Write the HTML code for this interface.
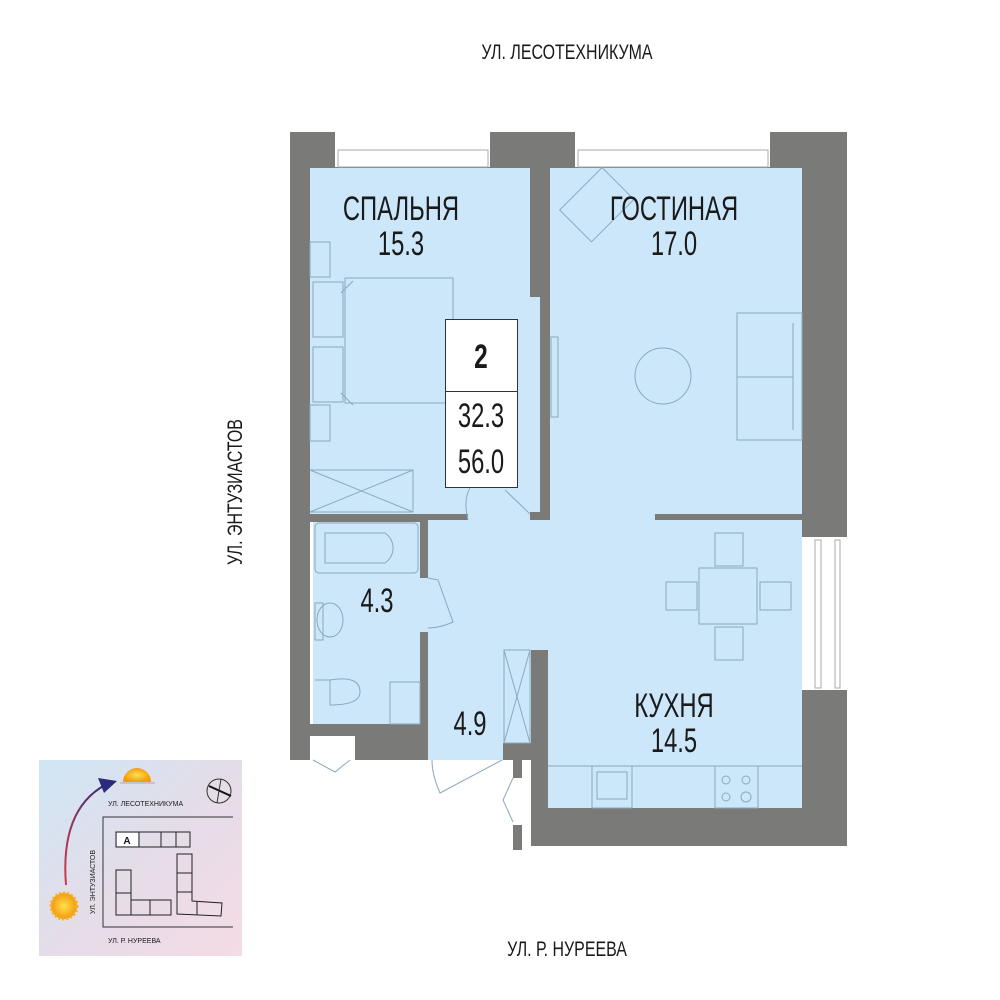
<!DOCTYPE html>
<html><head><meta charset="utf-8"><style>
html,body{margin:0;padding:0;background:#fff;width:1000px;height:1000px;overflow:hidden}
svg{display:block}
text{font-family:"Liberation Sans",sans-serif;fill:#1a1a1a}
</style></head><body>
<svg width="1000" height="1000" viewBox="0 0 1000 1000">
<defs>
<linearGradient id="g" x1="0" y1="0" x2="1" y2="1">
<stop offset="0" stop-color="#cfe6f5"/><stop offset="0.5" stop-color="#e4dde8"/><stop offset="1" stop-color="#f5dbe6"/></linearGradient>
<linearGradient id="arr" x1="0" y1="1" x2="1" y2="0"><stop offset="0" stop-color="#d23a4a"/><stop offset="1" stop-color="#2c2a7a"/></linearGradient>
<radialGradient id="sun"><stop offset="0" stop-color="#ffe04a"/><stop offset="1" stop-color="#f29a12"/></radialGradient>
</defs>
<text x="567" y="59" font-size="21" text-anchor="middle" transform="translate(567 0) scale(0.76 1) translate(-567 0)">УЛ. ЛЕСОТЕХНИКУМА</text>
<text x="567" y="956" font-size="21" text-anchor="middle" transform="translate(567 0) scale(0.76 1) translate(-567 0)">УЛ. Р. НУРЕЕВА</text>
<text transform="translate(242 492) rotate(-90) scale(0.76 1)" font-size="21" text-anchor="middle">УЛ. ЭНТУЗИАСТОВ</text>

<g fill="#7a7b78">
<rect x="290" y="132" width="557" height="36"/>
<rect x="290" y="132" width="20" height="628"/>
<rect x="802" y="132" width="45" height="405"/>
<rect x="802" y="690" width="45" height="156"/>
<rect x="531" y="808" width="316" height="38"/>
<rect x="531" y="650" width="17" height="196"/>
<rect x="530" y="168" width="20" height="129"/>
<rect x="540" y="168" width="10" height="352"/>
<rect x="310" y="514" width="158" height="8"/>
<rect x="530" y="512" width="20" height="10"/>
<rect x="655" y="514" width="147" height="8"/>
<rect x="420" y="520" width="8" height="58"/>
<rect x="420" y="632" width="8" height="92"/>
<rect x="290" y="724" width="138" height="36"/>
<rect x="503" y="743" width="34" height="17"/>
<rect x="513" y="743" width="9" height="35"/>
<rect x="513" y="825" width="9" height="25"/>
</g>
<g fill="#fff" stroke="#aaa" stroke-width="1">
<rect x="335" y="132" width="155" height="35" stroke="none"/>
<rect x="338" y="150" width="150" height="17"/>
<rect x="575" y="132" width="195" height="35" stroke="none"/>
<rect x="578" y="150" width="190" height="17"/>
<rect x="803" y="537" width="44" height="153" stroke="none"/>
<rect x="815" y="540" width="6" height="148"/>
<rect x="835" y="540" width="5" height="148"/>
<rect x="310" y="736" width="45" height="24" stroke="none"/>
</g>
<g fill="#cce7f9">
<rect x="310" y="168" width="220" height="346"/>
<rect x="530" y="297" width="10" height="215"/>
<rect x="550" y="168" width="252" height="346"/>
<rect x="313" y="522" width="107" height="202"/>
<rect x="420" y="578" width="8" height="54"/>
<rect x="428" y="520" width="374" height="130"/>
<rect x="428" y="650" width="103" height="93"/>
<rect x="428" y="743" width="75" height="17"/>
<rect x="548" y="520" width="254" height="288"/>
<rect x="468" y="514" width="62" height="8"/>
<rect x="550" y="514" width="105" height="8"/>
</g>
<g fill="none" stroke="#8aa9bd" stroke-width="1">
<rect x="310" y="242" width="20" height="35"/>
<rect x="313" y="282" width="30" height="55"/>
<rect x="313" y="347" width="30" height="55"/>
<rect x="310" y="405" width="20" height="36"/>
<rect x="345" y="278" width="108" height="125"/>
<path d="M341 293 L353 281 M341 393 L353 405"/>
<path d="M310 470 H413 V512 H310 M310 470 L413 512 M413 470 L310 512"/>
<path d="M468 520 Q463 500 470 488 M530 514 L505 490"/>
<rect x="570" y="175" width="45" height="60" transform="rotate(45 595 210)"/>
<circle cx="663" cy="376" r="28"/>
<rect x="737" y="313" width="65" height="127"/>
<path d="M737 377 H793 M793 323 V430"/>
<rect x="551" y="337" width="7" height="80"/>
<rect x="315" y="523" width="103" height="50" rx="4"/>
<path d="M325 533 H385 A18 18 0 0 1 385 563 H325 Z"/>
<rect x="315" y="603" width="8" height="37"/>
<ellipse cx="330" cy="620" rx="13" ry="17"/>
<path d="M315 680 H330 M330 680 Q360 675 360 692 Q360 705 330 705 Z"/>
<rect x="390" y="682" width="30" height="42"/>
<path d="M428 578 L438 580 L453 622 Q440 628 428 628"/>
<rect x="504" y="650" width="26" height="93"/>
<path d="M504 650 L530 743 M530 650 L504 743"/>
<path d="M432 760 Q432 775 440 793 L502 760"/>
<path d="M313 760 L335 772 L350 760"/>
<path d="M513 778 L503 800 L513 822"/>
<rect x="699" y="568" width="58" height="56"/>
<rect x="715" y="533" width="28" height="33"/>
<rect x="715" y="627" width="28" height="33"/>
<rect x="666" y="582" width="31" height="28"/>
<rect x="760" y="582" width="31" height="28"/>
<path d="M548 766 H802"/>
<rect x="592" y="766" width="40" height="42"/>
<rect x="597" y="772" width="30" height="27"/>
<rect x="715" y="766" width="43" height="42"/>
<circle cx="726" cy="780" r="4"/><circle cx="746" cy="780" r="4"/>
<circle cx="726" cy="797" r="4"/><circle cx="746" cy="797" r="5"/>
</g>
<rect x="445.5" y="319.5" width="72" height="168" fill="#fff" stroke="#333"/>
<line x1="445" y1="391.5" x2="518" y2="391.5" stroke="#333"/>
<g font-size="34" text-anchor="middle">
<text x="481" y="368" font-weight="bold" transform="translate(481 0) scale(0.72 1) translate(-481 0)">2</text>
<text x="481" y="427" transform="translate(481 0) scale(0.7 1) translate(-481 0)">32.3</text>
<text x="481" y="473" transform="translate(481 0) scale(0.7 1) translate(-481 0)">56.0</text>
<text x="401" y="220" transform="translate(401 0) scale(0.7 1) translate(-401 0)">СПАЛЬНЯ</text>
<text x="401" y="255" transform="translate(401 0) scale(0.7 1) translate(-401 0)">15.3</text>
<text x="674" y="220" transform="translate(674 0) scale(0.7 1) translate(-674 0)">ГОСТИНАЯ</text>
<text x="674" y="255" transform="translate(674 0) scale(0.7 1) translate(-674 0)">17.0</text>
<text x="377" y="612" transform="translate(377 0) scale(0.7 1) translate(-377 0)">4.3</text>
<text x="470" y="735" transform="translate(470 0) scale(0.7 1) translate(-470 0)">4.9</text>
<text x="674" y="717" transform="translate(674 0) scale(0.7 1) translate(-674 0)">КУХНЯ</text>
<text x="674" y="752" transform="translate(674 0) scale(0.7 1) translate(-674 0)">14.5</text>
</g>
<rect x="39" y="760" width="203" height="196" fill="url(#g)"/>
<path d="M66 885 Q60 810 105 785" fill="none" stroke="url(#arr)" stroke-width="2"/>
<path d="M98 778 L117 781 L104 793 Z" fill="#2c2a7a"/>
<path d="M123 782 A14 14 0 0 1 151 782 Z" fill="url(#sun)"/>
<line x1="120" y1="783" x2="155" y2="783" stroke="#aaa"/>
<circle cx="64" cy="906" r="13" fill="url(#sun)" stroke="#f7b020" stroke-width="3" stroke-dasharray="2 2"/>
<circle cx="219" cy="791" r="12" fill="none" stroke="#333"/>
<line x1="209" y1="786" x2="231" y2="796" stroke="#111" stroke-width="2"/>
<line x1="221" y1="779" x2="217" y2="803" stroke="#333"/>
<g font-size="7" fill="#222"><text x="108" y="806">УЛ. ЛЕСОТЕХНИКУМА</text><text x="108" y="943">УЛ. Р. НУРЕЕВА</text><text transform="translate(95 882) rotate(-90)" text-anchor="middle">УЛ. ЭНТУЗИАСТОВ</text></g>
<path d="M233 817 H103 V927 H233" fill="none" stroke="#333"/>
<g fill="none" stroke="#222" stroke-width="1">
<rect x="116" y="832" width="74" height="15"/>
<path d="M139 832 V847 M161 832 V847 M176 832 V847"/>
<rect x="116" y="870" width="15" height="45"/><path d="M116 893 H131"/>
<rect x="131" y="900" width="40" height="15"/><path d="M150 900 V915"/>
<rect x="177" y="854" width="15" height="38"/><path d="M177 873 H192"/>
<path d="M177 892 V914 L221 916 L222 903 L192 901 V892 M197 902 V915"/>
</g>
<rect x="117" y="833" width="21" height="13" fill="#fff"/>
<text x="127" y="844" font-size="10" text-anchor="middle" font-weight="bold">A</text>
</svg>
</body></html>
